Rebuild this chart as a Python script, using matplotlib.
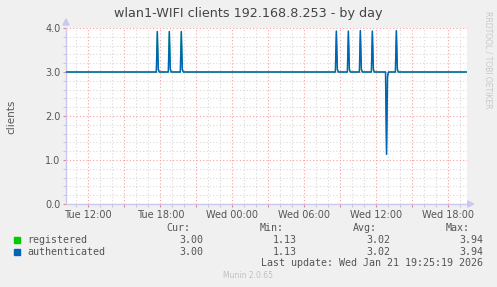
import matplotlib
matplotlib.use("Agg")
import matplotlib.pyplot as plt
from matplotlib.ticker import MultipleLocator, FuncFormatter

# ---- data (hours since Tue 00:00) ----
baseline = 3.0
spike_hours = [17.75, 18.75, 19.75, 32.67, 33.67, 34.67, 35.67, 37.67]
spike_peaks = [3.92, 3.92, 3.92, 3.93, 3.93, 3.94, 3.93, 3.94]
spike_tail = 3.06
dip_hour = 36.85
dip_value = 1.13
dip_recover = 2.9
x_start, x_end = 10.14, 43.53
step = 5.0 / 60.0

legend_names = ["registered", "authenticated"]
legend_colors = ["#00CC00", "#0066B3"]
cur_vals = [3.00, 3.00]
min_vals = [1.13, 1.13]
avg_vals = [3.02, 3.02]
max_vals = [3.94, 3.94]
x_label_hours = [12, 18, 24, 30, 36, 42]

# build points
events = [(h, "spike", p) for h, p in zip(spike_hours, spike_peaks)] + [(dip_hour, "dip", dip_value)]
events.sort()
xs, ys = [x_start], [baseline]
for h, kind, v in events:
    xs += [h - step, h]
    ys += [baseline, v]
    xs += [h + step, h + 2 * step]
    ys += [spike_tail if kind == "spike" else dip_recover, baseline]
xs.append(x_end)
ys.append(baseline)

W, H = 497, 287
fig = plt.figure(figsize=(W / 100, H / 100), dpi=100)
fig.patch.set_facecolor("#F0F0F0")
L, R, T, B = 66, 466.7, 28, 204
ax = fig.add_axes([L / W, 1 - B / H, (R - L) / W, (B - T) / H])
ax.set_facecolor("white")

txt = "#555555"
axis_col = "#C8C8F0"

ax.set_xlim(x_start, x_end)
ax.set_ylim(0, 4.0)

ax.xaxis.set_major_locator(MultipleLocator(3))
ax.xaxis.set_minor_locator(MultipleLocator(1))
ax.yaxis.set_major_locator(MultipleLocator(1))
ax.yaxis.set_minor_locator(MultipleLocator(0.2))

def xfmt(h, pos):
    hi = int(round(h))
    if hi not in x_label_hours:
        return ""
    day = "Tue" if hi < 24 else "Wed"
    return f"{day} {hi % 24:02d}:00"

ax.xaxis.set_major_formatter(FuncFormatter(xfmt))
ax.yaxis.set_major_formatter(FuncFormatter(lambda v, p: f"{v:.1f}"))

ax.grid(which="minor", color="#D8D8D8", linestyle=(0, (1, 2)), linewidth=0.8)
ax.grid(which="major", color="#F4A0A0", linestyle=(0, (1, 2)), linewidth=0.8)
ax.set_axisbelow(True)

ax.tick_params(which="major", direction="out", length=2.5, width=0.8, color="#F08080",
               labelsize=7, labelcolor=txt, pad=1.5)
ax.tick_params(which="minor", direction="out", length=2, width=0.6, color="#C0C0C0")

for s in ["top", "right"]:
    ax.spines[s].set_visible(False)
for s in ["left", "bottom"]:
    ax.spines[s].set_color(axis_col)
    ax.spines[s].set_linewidth(1.0)

ax.plot(xs, ys, color=legend_colors[0], linewidth=0.7, zorder=3)
ax.plot(xs, ys, color=legend_colors[1], linewidth=1.1, zorder=4)

# arrows
fig.patches.append(plt.Polygon([[(L - 3) / W, 1 - (T - 3) / H], [(L + 3) / W, 1 - (T - 3) / H], [L / W, 1 - (T - 9) / H]],
                               closed=True, transform=fig.transFigure, color=axis_col))
fig.patches.append(plt.Polygon([[(R + 1) / W, 1 - (B - 3) / H], [(R + 1) / W, 1 - (B + 3) / H], [(R + 7) / W, 1 - B / H]],
                               closed=True, transform=fig.transFigure, color=axis_col))

fig.text(248 / W, 1 - 13 / H, "wlan1-WIFI clients 192.168.8.253 - by day", ha="center", va="center",
         fontsize=9.2, color="#444444")
fig.text(11 / W, 1 - 117 / H, "clients", rotation=90, ha="center", va="center", fontsize=7.5, color=txt)
fig.text(488 / W, 1 - 60 / H, "RRDTOOL / TOBI OETIKER", rotation=270, ha="center", va="center",
         fontsize=5.5, color="#C8C8C8")

mono = "DejaVu Sans Mono"
fs = 7.2
hy = 228
fig.text(190 / W, 1 - hy / H, "Cur:", ha="right", va="center", family=mono, fontsize=fs, color=txt)
fig.text(284 / W, 1 - hy / H, "Min:", ha="right", va="center", family=mono, fontsize=fs, color=txt)
fig.text(377 / W, 1 - hy / H, "Avg:", ha="right", va="center", family=mono, fontsize=fs, color=txt)
fig.text(470 / W, 1 - hy / H, "Max:", ha="right", va="center", family=mono, fontsize=fs, color=txt)
for i, (name, col) in enumerate(zip(legend_names, legend_colors)):
    y = 240 + i * 12
    fig.patches.append(plt.Rectangle((14 / W, 1 - (y + 3) / H), 6 / W, 6 / H, transform=fig.transFigure,
                                     color=col))
    fig.text(27 / W, 1 - y / H, name, ha="left", va="center", family=mono, fontsize=fs, color=txt)
    for xr, vals in zip([203, 297, 390, 483], [cur_vals, min_vals, avg_vals, max_vals]):
        fig.text(xr / W, 1 - y / H, f"{vals[i]:.2f}", ha="right", va="center", family=mono, fontsize=fs,
                 color=txt)
fig.text(483 / W, 1 - 263 / H, "Last update: Wed Jan 21 19:25:19 2026", ha="right", va="center",
         family=mono, fontsize=fs, color=txt)
fig.text(248 / W, 1 - 276 / H, "Munin 2.0.65", ha="center", va="center", fontsize=5.5, color="#C0C0C0")

fig.savefig("out.png", dpi=100, facecolor=fig.get_facecolor())
